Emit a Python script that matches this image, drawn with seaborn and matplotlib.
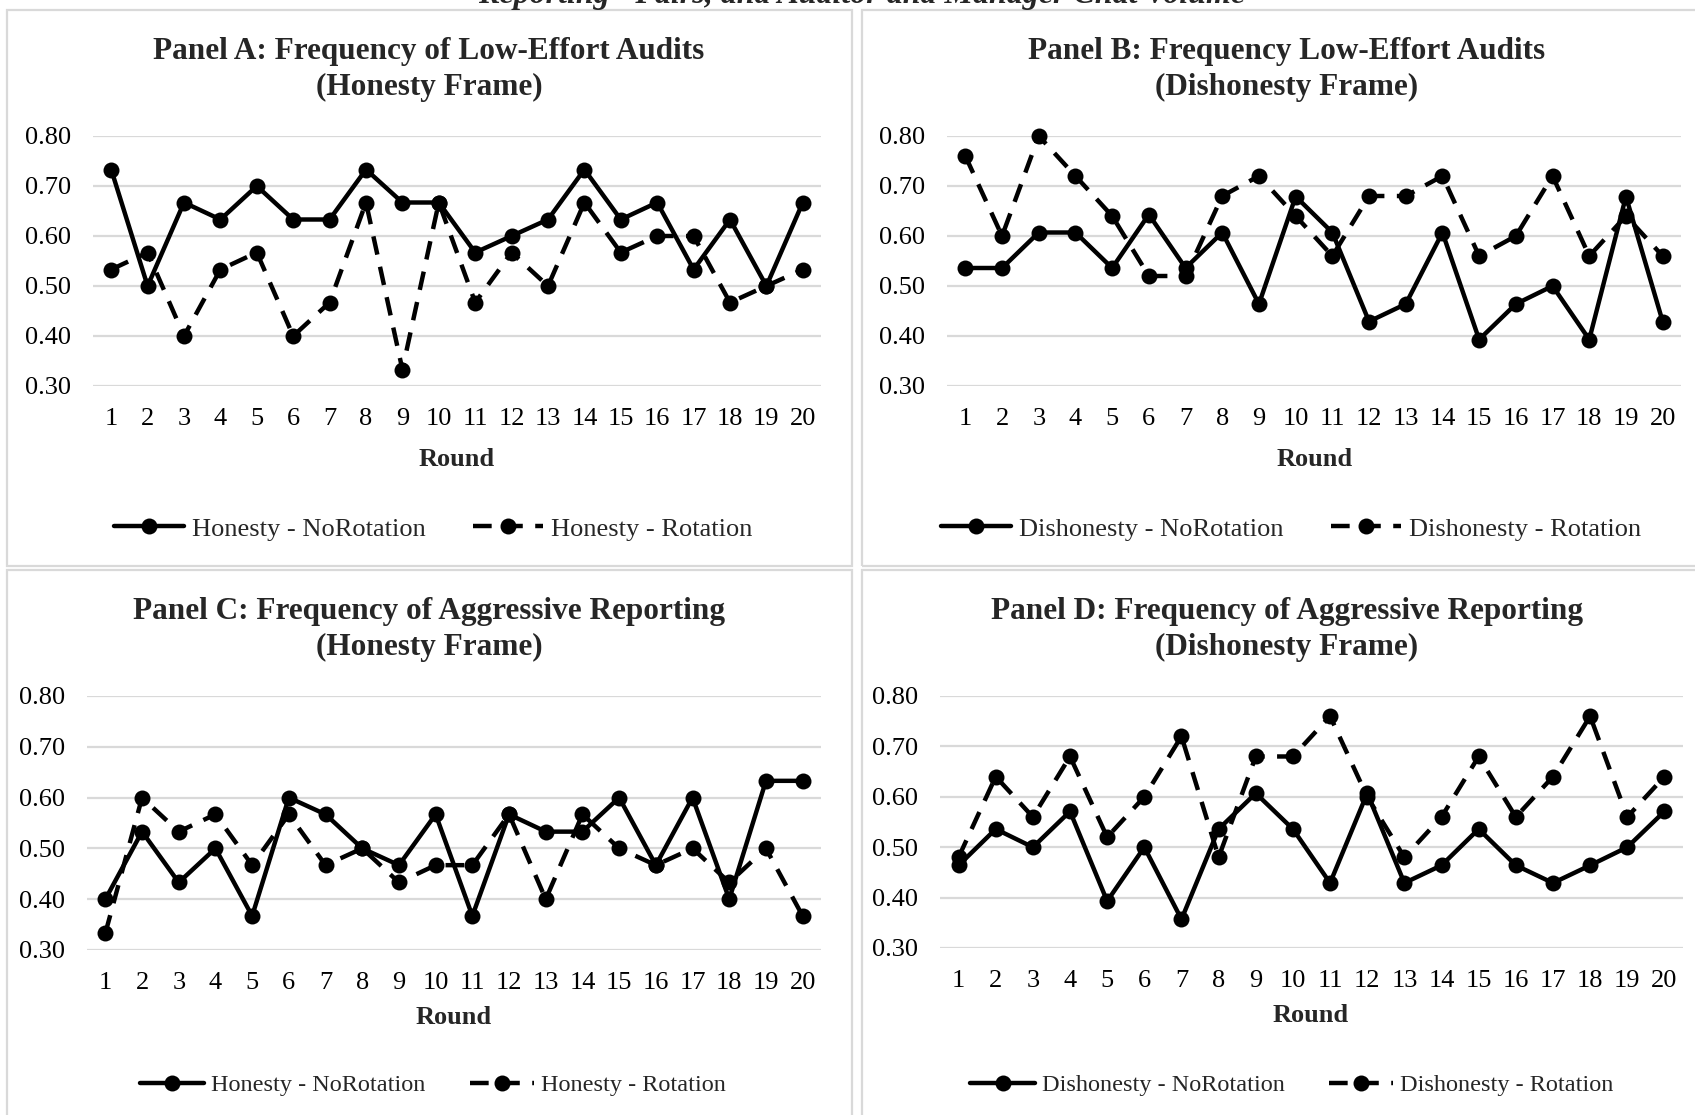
import matplotlib
matplotlib.use("Agg")
import numpy as np
import pandas as pd
import matplotlib.pyplot as plt
import seaborn as sns
from matplotlib.patches import Rectangle
from matplotlib.lines import Line2D
from matplotlib.ticker import FormatStrFormatter

# ---------------- data ----------------
rounds = list(range(1, 21))
y_ticks = [0.30, 0.40, 0.50, 0.60, 0.70, 0.80]

# Panel A: low-effort audits, honesty frame
a_norotation = [0.733, 0.500, 0.667, 0.633, 0.700, 0.633, 0.633, 0.733, 0.667, 0.667,
                0.567, 0.600, 0.633, 0.733, 0.633, 0.667, 0.533, 0.633, 0.500, 0.667]
a_rotation = [0.533, 0.567, 0.400, 0.533, 0.567, 0.400, 0.467, 0.667, 0.333, 0.667,
              0.467, 0.567, 0.500, 0.667, 0.567, 0.600, 0.600, 0.467, 0.500, 0.533]

# Panel B: low-effort audits, dishonesty frame
b_norotation = [0.536, 0.536, 0.607, 0.607, 0.536, 0.643, 0.536, 0.607, 0.464, 0.679,
                0.607, 0.429, 0.464, 0.607, 0.393, 0.464, 0.500, 0.393, 0.679, 0.429]
b_rotation = [0.76, 0.60, 0.80, 0.72, 0.64, 0.52, 0.52, 0.68, 0.72, 0.64,
              0.56, 0.68, 0.68, 0.72, 0.56, 0.60, 0.72, 0.56, 0.64, 0.56]

# Panel C: aggressive reporting, honesty frame
c_norotation = [0.400, 0.533, 0.433, 0.500, 0.367, 0.600, 0.567, 0.500, 0.467, 0.567,
                0.367, 0.567, 0.533, 0.533, 0.600, 0.467, 0.600, 0.400, 0.633, 0.633]
c_rotation = [0.333, 0.600, 0.533, 0.567, 0.467, 0.567, 0.467, 0.500, 0.433, 0.467,
              0.467, 0.567, 0.400, 0.567, 0.500, 0.467, 0.500, 0.433, 0.500, 0.367]

# Panel D: aggressive reporting, dishonesty frame
d_norotation = [0.464, 0.536, 0.500, 0.571, 0.393, 0.500, 0.357, 0.536, 0.607, 0.536,
                0.429, 0.607, 0.429, 0.464, 0.536, 0.464, 0.429, 0.464, 0.500, 0.571]
d_rotation = [0.48, 0.64, 0.56, 0.68, 0.52, 0.60, 0.72, 0.48, 0.68, 0.68,
              0.76, 0.60, 0.48, 0.56, 0.68, 0.56, 0.64, 0.76, 0.56, 0.64]

caption = 'Reporting" Pairs, and Auditor and Manager Chat Volume'

# ---------------- layout (pixels) ----------------
W, H = 1695, 1115
sns.set_theme(style="white")
plt.rcParams['font.family'] = ['Liberation Serif', 'DejaVu Serif']

fig = plt.figure(figsize=(W / 100, H / 100), dpi=100)


def fx(px):
    return px / W


def fy(py):
    return 1 - py / H


panels = [
    dict(rect=(93, 136, 821, 386),
         title=["Panel A: Frequency of Low-Effort Audits", "(Honesty Frame)"],
         title_xy=(429, 51), xlabel_xy=(457, 459), legend_xy=(433, 529), legend_fs=19,
         names=["Honesty - NoRotation", "Honesty - Rotation"],
         series=[a_norotation, a_rotation]),
    dict(rect=(947, 136, 1681, 386),
         title=["Panel B: Frequency Low-Effort Audits", "(Dishonesty Frame)"],
         title_xy=(1287, 51), xlabel_xy=(1315, 459), legend_xy=(1291, 529), legend_fs=19,
         names=["Dishonesty - NoRotation", "Dishonesty - Rotation"],
         series=[b_norotation, b_rotation]),
    dict(rect=(87, 696, 821, 950),
         title=["Panel C: Frequency of Aggressive Reporting", "(Honesty Frame)"],
         title_xy=(429, 611), xlabel_xy=(454, 1018), legend_xy=(433, 1085), legend_fs=17.5,
         names=["Honesty - NoRotation", "Honesty - Rotation"],
         series=[c_norotation, c_rotation]),
    dict(rect=(940, 696, 1683, 948),
         title=["Panel D: Frequency of Aggressive Reporting", "(Dishonesty Frame)"],
         title_xy=(1287, 611), xlabel_xy=(1311, 1016), legend_xy=(1292, 1085), legend_fs=17.5,
         names=["Dishonesty - NoRotation", "Dishonesty - Rotation"],
         series=[d_norotation, d_rotation]),
]

# light gray frames around each chart
border = '#d9d9d9'
for (x0, y0, x1, y1) in [(7, 10, 852, 566), (862, 10, 1702, 566),
                         (7, 570, 852, 1122), (862, 570, 1702, 1122)]:
    fig.patches.append(Rectangle((fx(x0), fy(y1)), fx(x1) - fx(x0), fy(y0) - fy(y1),
                                 transform=fig.transFigure, fill=False,
                                 edgecolor=border, linewidth=1.6))

fig.text(fx(862), fy(3), caption, ha='center', va='baseline',
         fontsize=23, fontweight='bold', fontstyle='italic')

LW = 3.2
MS = 11.5
DASH = (4.2, 2.8)

for p in panels:
    l, t, r, b = p['rect']
    ax = fig.add_axes([fx(l), fy(b), fx(r) - fx(l), fy(t) - fy(b)])
    solid_name, dashed_name = p['names']
    df = pd.DataFrame({
        'Round': rounds * 2,
        'Value': p['series'][0] + p['series'][1],
        'Series': [solid_name] * 20 + [dashed_name] * 20,
    })
    sns.lineplot(data=df, x='Round', y='Value', style='Series',
                 style_order=[solid_name, dashed_name],
                 dashes={solid_name: '', dashed_name: DASH},
                 markers={solid_name: 'o', dashed_name: 'o'},
                 color='black', linewidth=LW, markersize=MS, markeredgewidth=0,
                 errorbar=None, legend=False, ax=ax)
    for ln in ax.lines:
        ln.set_clip_on(False)

    ax.set_xlim(0.5, 20.5)
    ax.set_ylim(0.30, 0.80)
    ax.set_xticks(rounds)
    ax.set_yticks(y_ticks)
    ax.yaxis.set_major_formatter(FormatStrFormatter('%.2f'))
    ax.yaxis.grid(True, color=border, linewidth=1.6)
    ax.xaxis.grid(False)
    ax.set_axisbelow(True)
    for s in ax.spines.values():
        s.set_visible(False)
    ax.tick_params(axis='both', length=0, labelsize=19, colors='black')
    ax.tick_params(axis='y', pad=16)
    ax.tick_params(axis='x', pad=15.5)
    ax.set_xlabel('')
    ax.set_ylabel('')
    ax.set_facecolor('none')

    tx, ty = p['title_xy']
    fig.text(fx(tx), fy(ty), p['title'][0], ha='center', va='center',
             fontsize=22.5, fontweight='bold')
    fig.text(fx(tx), fy(ty + 36), p['title'][1], ha='center', va='center',
             fontsize=22.5, fontweight='bold')
    lx, ly = p['xlabel_xy']
    fig.text(fx(lx), fy(ly), 'Round', ha='center', va='center',
             fontsize=19, fontweight='bold')

    handles = [
        Line2D([], [], color='black', linewidth=LW, marker='o', markersize=MS,
               markeredgewidth=0),
        Line2D([], [], color='black', linewidth=LW, linestyle=(0, DASH), marker='o',
               markersize=MS, markeredgewidth=0),
    ]
    gx, gy = p['legend_xy']
    fig.legend(handles, p['names'], loc='center', bbox_to_anchor=(fx(gx), fy(gy)),
               ncol=2, frameon=False, fontsize=p['legend_fs'], handlelength=2.65,
               handletextpad=0.3, columnspacing=1.8, borderpad=0)

fig.savefig('out.png', dpi=100)
